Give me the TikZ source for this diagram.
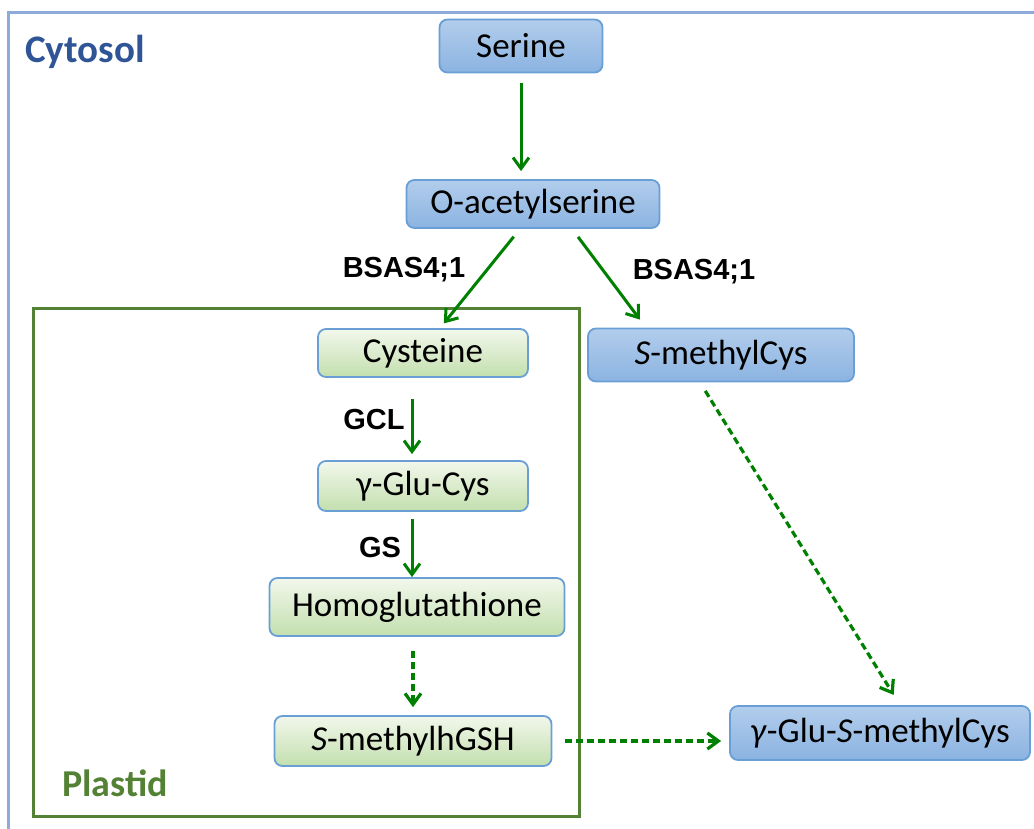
\documentclass[tikz,border=0pt]{standalone}
\usepackage{fontspec}
\setmainfont{Carlito}
\newfontfamily\labfont{Liberation Sans}
\usetikzlibrary{arrows.meta}
\definecolor{cytoblue}{HTML}{8EAADB}
\definecolor{cytotext}{HTML}{2F5597}
\definecolor{plastgreen}{HTML}{548235}
\definecolor{boxedge}{HTML}{6A9FD6}
\definecolor{bluetop}{HTML}{B2CDEC}
\definecolor{bluebot}{HTML}{8BB3E1}
\definecolor{greentop}{HTML}{F2F8EC}
\definecolor{greenbot}{HTML}{C3DFAE}
\definecolor{arrgreen}{HTML}{008000}
\begin{document}
\begin{tikzpicture}[x=0.5pt, y=-0.5pt,
    font=\fontsize{17.5}{20}\selectfont,
    mol/.style={draw=boxedge, line width=0.9pt, rounded corners=4pt, inner sep=0pt},
    bluemol/.style={mol, top color=bluetop, bottom color=bluebot},
    greenmol/.style={mol, top color=greentop, bottom color=greenbot},
    rxn/.style={draw=arrgreen, line width=1.5pt, -{Straight Barb[length=5.5pt,width=8pt]}},
    maybe/.style={rxn, line width=1.6pt, dash pattern=on 3.5pt off 2pt},
    enz/.style={font=\labfont\bfseries\fontsize{14.5}{17}\selectfont}]
  \useasboundingbox (0,0) rectangle (1034,829);
  % compartments
  \draw[cytoblue, line width=1.5pt] (8,829) -- (8,13) -- (1034,13);
  \draw[plastgreen, line width=1.5pt] (33,308) rectangle (579,816);
  \node[text=cytotext, font=\bfseries\fontsize{19.5}{22}\selectfont] (cytosol) at (85,52) {Cytosol};
  \node[text=plastgreen, font=\bfseries\fontsize{19}{22}\selectfont] (plastid) at (115,783) {Plastid};
  % metabolites
  \node[bluemol, minimum width=81.5pt, minimum height=26.5pt] (ser) at (521,46) {Serine};
  \node[bluemol, minimum width=126.5pt, minimum height=24pt] (oas) at (533,204) {O-acetylserine};
  \node[greenmol, minimum width=105pt, minimum height=24pt] (cys) at (423,353) {Cysteine};
  \node[bluemol, minimum width=133pt, minimum height=26.5pt] (smc) at (721,355) {\textit{S}-methylCys};
  \node[greenmol, minimum width=105pt, minimum height=25pt] (gcys) at (423,486) {γ-Glu-Cys};
  \node[greenmol, minimum width=147.5pt, minimum height=29pt] (hgsh) at (417,607) {Homoglutathione};
  \node[greenmol, minimum width=138.5pt, minimum height=25pt] (smh) at (413,741) {\textit{S}-methylhGSH};
  \node[bluemol, minimum width=150pt, minimum height=27pt] (gsmc) at (880,733) {\textit{γ}-Glu-\textit{S}-methylCys};
  % enzymes
  \node[enz] (bsasl) at (404,270) {BSAS4;1};
  \node[enz] (bsasr) at (694,272) {BSAS4;1};
  \node[enz] (gcl) at (374,420) {GCL};
  \node[enz] (gs) at (380,548) {GS};
  % reactions
  \draw[rxn, shorten <=5pt, shorten >=4pt] (ser.south) -- (ser.south |- oas.north);
  \draw[rxn, shorten <=5pt, shorten >=3pt] ([xshift=-6.5pt]oas.south) -- ([xshift=8.5pt]cys.north);
  \draw[rxn, shorten <=5pt, shorten >=5pt] ([xshift=19.5pt]oas.south) -- ([xshift=-37.5pt]smc.north);
  \draw[rxn, shorten <=10.5pt, shorten >=3pt] ([xshift=-5.5pt]cys.south) -- ([xshift=-5.5pt]cys.south |- gcys.north);
  \draw[rxn, shorten <=3.5pt] ([xshift=-5.5pt]gcys.south) -- ([xshift=-5.5pt]gcys.south |- hgsh.north);
  \draw[maybe, shorten <=7pt, shorten >=4pt] ([xshift=-2pt]hgsh.south) -- ([xshift=-2pt]hgsh.south |- smh.north);
  \draw[maybe, shorten <=5pt, shorten >=6pt] ([xshift=-10.5pt]smc.south) -- ([xshift=10pt]gsmc.north);
  \draw[maybe, shorten <=6.5pt, shorten >=4pt] (smh.east) -- (smh.east -| gsmc.west);
\end{tikzpicture}
\end{document}
